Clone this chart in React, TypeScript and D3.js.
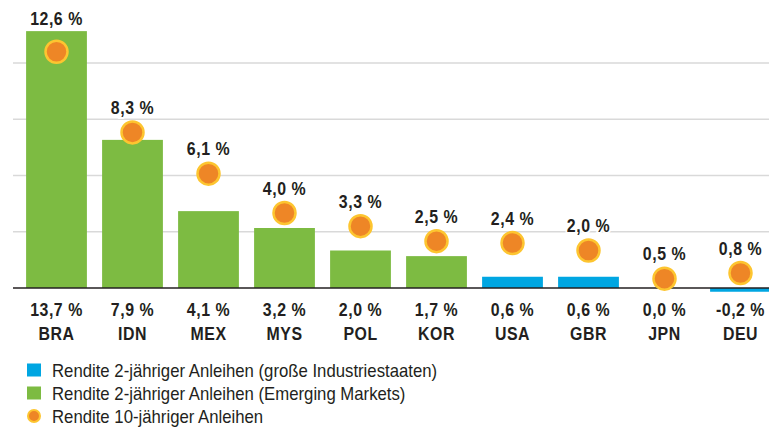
import React from "react";
import * as d3 from "d3";

const countries = ["BRA", "IDN", "MEX", "MYS", "POL", "KOR", "USA", "GBR", "JPN", "DEU"];
const yield2y = [13.7, 7.9, 4.1, 3.2, 2.0, 1.7, 0.6, 0.6, 0.0, -0.2];
const yield10y = [12.6, 8.3, 6.1, 4.0, 3.3, 2.5, 2.4, 2.0, 0.5, 0.8];
const groups = ["em", "em", "em", "em", "em", "em", "ind", "ind", "ind", "ind"];
const gridTicks = [3, 6, 9, 12];
const legendItems = [
  { key: "ind", label: "Rendite 2-jähriger Anleihen (große Industriestaaten)" },
  { key: "em", label: "Rendite 2-jähriger Anleihen (Emerging Markets)" },
  { key: "dot", label: "Rendite 10-jähriger Anleihen" },
];

const W = 769;
const H = 427;
const GREEN = "#7dbb42";
const BLUE = "#00a6e2";
const ORANGE = "#ee8626";
const YELLOW = "#fdc530";
const INK = "#231f20";
const FONT = "'Liberation Sans Narrow', 'Liberation Sans', sans-serif";
const SX = 0.86;

const fmt = (v: number) => v.toFixed(1).replace(".", ",") + " %";

export default function App() {
  const x = d3.scaleBand<string>().domain(countries).range([18.5, 778.5]).paddingInner(0.2).paddingOuter(0.1);
  const y = d3.scaleLinear().domain([0, 12]).range([288, 63]);
  const r = 11;

  const label = (tx: number, ty: number, s: string, halo = false) => (
    <text transform={`translate(${tx},${ty}) scale(${SX},1)`} textAnchor="middle" fontSize={18.5}
      fontWeight="bold" fill={INK} letterSpacing={0.6}
      stroke={halo ? "#fff" : "none"} strokeWidth={halo ? 4 : 0} paintOrder="stroke">
      {s}
    </text>
  );

  return (
    <svg width={W} height={H} style={{ position: "absolute", left: 0, top: 0, background: "#fff" }} fontFamily={FONT}>
      {gridTicks.map((t) => (
        <line key={t} x1={13} x2={W} y1={y(t)} y2={y(t)} stroke="#d9d9d9" strokeWidth={1.5} />
      ))}
      {countries.map((c, i) => {
        const v = yield2y[i];
        const y0 = y(Math.max(0, v));
        const y1 = y(Math.min(0, v));
        const h = y1 - y0;
        return h > 0 ? (
          <rect key={c} x={x(c)} y={y0} width={x.bandwidth()} height={h} fill={groups[i] === "em" ? GREEN : BLUE} />
        ) : null;
      })}
      <line x1={13} x2={W} y1={y(0)} y2={y(0)} stroke={INK} strokeWidth={1.5} />
      {countries.map((c, i) => {
        const cx = (x(c) as number) + x.bandwidth() / 2;
        const cy = y(yield10y[i]);
        const barTop = y(Math.max(0, yield2y[i]));
        const ly = Math.min(barTop, cy - r - 1) - 6.5;
        return (
          <g key={c}>
            <circle cx={cx} cy={cy} r={r} fill={ORANGE} stroke={YELLOW} strokeWidth={2.5} />
            {label(cx, ly, fmt(yield10y[i]), true)}
            {label(cx, 316, fmt(yield2y[i]))}
            {label(cx, 340, c)}
          </g>
        );
      })}
      {legendItems.map((it, i) => {
        const cy = 370 + i * 23;
        return (
          <g key={it.key}>
            {it.key === "dot" ? (
              <circle cx={34} cy={cy} r={6} fill={ORANGE} stroke={YELLOW} strokeWidth={2} />
            ) : (
              <rect x={27} y={cy - 6.5} width={14} height={13} fill={it.key === "ind" ? BLUE : GREEN} />
            )}
            <text transform={`translate(52,${cy + 6.5}) scale(0.93,1)`} fontSize={18} fill={INK}>{it.label}</text>
          </g>
        );
      })}
    </svg>
  );
}
